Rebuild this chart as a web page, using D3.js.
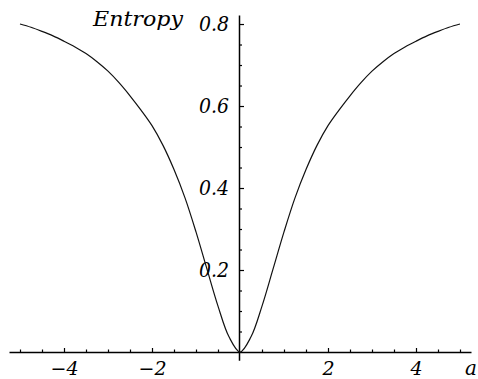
<!DOCTYPE html>
<html>
<head>
<meta charset="utf-8">
<script src="https://cdn.jsdelivr.net/npm/d3@7"></script>
<style>
  body { margin: 0; background: #fff; }
</style>
</head>
<body>
<div class="chart"></div>
<script>
const width = 478;
const height = 379;
const serif = '"DejaVu Serif", "Liberation Serif", serif';

// a values and entropy
const aValues = [-5, -4.75, -4.5, -4.25, -4, -3.75, -3.5, -3.25, -3, -2.75, -2.5, -2.25, -2, -1.75, -1.5, -1.25, -1, -0.75, -0.5, -0.25,
    0, 0.25, 0.5, 0.75, 1, 1.25, 1.5, 1.75, 2, 2.25, 2.5, 2.75, 3, 3.25, 3.5, 3.75, 4, 4.25, 4.5, 4.75, 5];
const entropy = [0.800, 0.792, 0.782, 0.771, 0.758, 0.744, 0.728, 0.708, 0.685, 0.657, 0.625, 0.590, 0.552, 0.504, 0.445, 0.376, 0.293, 0.202, 0.112, 0.037,
    0, 0.037, 0.112, 0.202, 0.293, 0.376, 0.445, 0.504, 0.552, 0.590, 0.625, 0.657, 0.685, 0.708, 0.728, 0.744, 0.758, 0.771, 0.782, 0.792, 0.800];

const xTickLabels = [-4, -2, 2, 4];
const xMinorTicks = [-5, -4.5, -3.5, -3, -2.5, -1.5, -1, -0.5, 0.5, 1, 1.5, 2.5, 3, 3.5, 4.5, 5];
const yTickLabels = [0.2, 0.4, 0.6, 0.8];
const yMinorTicks = [0.05, 0.1, 0.15, 0.25, 0.3, 0.35, 0.45, 0.5, 0.55, 0.65, 0.7, 0.75];

const svg = d3.select('.chart').append('svg')
    .attr('width', width)
    .attr('height', height)
    .attr('viewBox', `0 0 ${width} ${height}`);

const xScale = d3.scaleLinear().domain([-5.25, 5.25]).range([9, 471]);
const yScale = d3.scaleLinear().domain([-0.02, 0.822]).range([360.2, 15]);

const x0 = xScale(0);
const y0 = yScale(0);

/* x axis: ticks point up, labels below */
const xAxis = svg.append('g')
    .attr('transform', `translate(0, ${y0})`)
    .call(d3.axisBottom(xScale).tickValues(xTickLabels).tickSizeInner(-4).tickSizeOuter(0).tickPadding(10));
xAxis.select('.domain').attr('stroke', '#000').attr('stroke-width', 1.5);
xAxis.selectAll('.tick line').attr('stroke', '#000').attr('stroke-width', 1.2);
xAxis.selectAll('.tick text')
    .style('font-family', serif).style('font-style', 'italic').style('font-size', '19px')
    .attr('fill', '#000');

const xMinor = svg.append('g')
    .attr('transform', `translate(0, ${y0})`)
    .call(d3.axisBottom(xScale).tickValues(xMinorTicks).tickSizeInner(-2.5).tickSizeOuter(0).tickFormat(''));
xMinor.select('.domain').remove();
xMinor.selectAll('.tick line').attr('stroke', '#000').attr('stroke-width', 1.2);

/* y axis: ticks point right, labels left */
const yAxis = svg.append('g')
    .attr('transform', `translate(${x0 - 1}, 0)`)
    .call(d3.axisLeft(yScale).tickValues(yTickLabels).tickSizeInner(-5).tickSizeOuter(0).tickPadding(10).tickFormat(d3.format('.1f')));
yAxis.select('.domain').attr('stroke', '#000').attr('stroke-width', 1.5);
yAxis.selectAll('.tick line').attr('stroke', '#000').attr('stroke-width', 1.2);
yAxis.selectAll('.tick text')
    .style('font-family', serif).style('font-style', 'italic').style('font-size', '20px')
    .attr('fill', '#000')
    .attr('textLength', 30).attr('lengthAdjust', 'spacingAndGlyphs');

const yMinor = svg.append('g')
    .attr('transform', `translate(${x0 - 1}, 0)`)
    .call(d3.axisLeft(yScale).tickValues(yMinorTicks).tickSizeInner(-3).tickSizeOuter(0).tickFormat(''));
yMinor.select('.domain').remove();
yMinor.selectAll('.tick line').attr('stroke', '#000').attr('stroke-width', 1.2);

/* axis titles */
svg.append('text')
    .attr('x', 93).attr('y', 26)
    .style('font-family', serif).style('font-style', 'italic').style('font-size', '20px')
    .attr('textLength', 90).attr('lengthAdjust', 'spacingAndGlyphs')
    .text('Entropy');
svg.append('text')
    .attr('x', 465).attr('y', 375)
    .style('font-family', serif).style('font-style', 'italic').style('font-size', '20px')
    .text('a');

/* curve */
const line = d3.line()
    .x((d, i) => xScale(aValues[i]))
    .y(d => yScale(d))
    .curve(d3.curveCatmullRom.alpha(0.5));
svg.append('path')
    .datum(entropy)
    .attr('fill', 'none')
    .attr('stroke', '#111')
    .attr('stroke-width', 1.2)
    .attr('d', line);
</script>
</body>
</html>
